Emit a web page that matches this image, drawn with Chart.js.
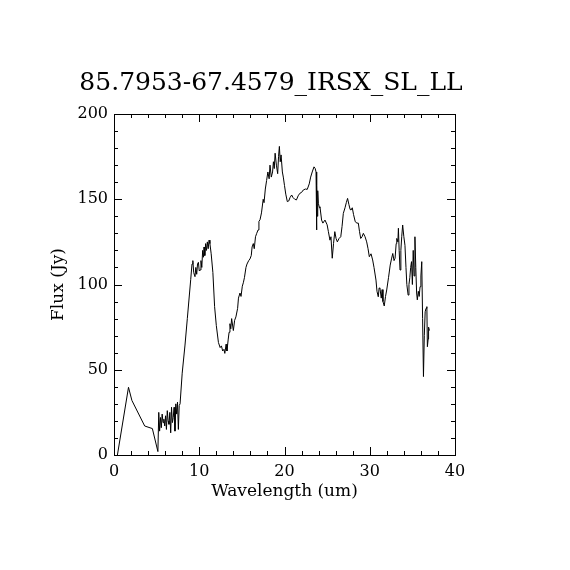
<!DOCTYPE html>
<html>
<head>
<meta charset="utf-8">
<title>85.7953-67.4579_IRSX_SL_LL</title>
<script src="https://cdn.jsdelivr.net/npm/chart.js@4.4.1/dist/chart.umd.min.js"></script>
<style>
  html, body { margin: 0; padding: 0; background: #fff; }
  #wrap { width: 570px; height: 570px; }
</style>
</head>
<body>
<div id="wrap"><canvas id="specChart"></canvas></div>
<script>
// Spectrum samples
const wavelength = [
  0.4, 1.7, 2.1, 3.6, 4.5, 5.15,
  5.25, 5.35, 5.45, 5.55, 5.65, 5.75, 5.85, 5.95, 6.05, 6.15, 6.25, 6.35, 6.45, 6.55,
  6.65, 6.75, 6.85, 6.95, 7.05, 7.15, 7.25, 7.35, 7.45, 7.55, 7.65, 7.75,
  8.0, 8.33, 8.6, 9.0, 9.15, 9.25, 9.35, 9.5, 9.6, 9.7, 9.8, 9.9, 10.0, 10.1, 10.2, 10.3,
  10.4, 10.5, 10.56, 10.65, 10.75, 10.85, 10.95, 11.05, 11.15, 11.25, 11.4, 11.6, 11.8, 12.0,
  12.25, 12.45, 12.6, 12.75, 12.9, 13.0, 13.15, 13.25, 13.4, 13.5, 13.6, 13.7, 13.8, 14.0,
  14.15, 14.3, 14.5, 14.6, 14.78, 14.9, 15.05, 15.17, 15.3, 15.48, 15.6, 15.8, 15.95, 16.1,
  16.2, 16.34, 16.45, 16.6, 16.74, 16.9, 17.0, 17.13, 17.3, 17.5, 17.6, 17.75, 17.9, 18.05,
  18.2, 18.3, 18.45, 18.6, 18.7, 18.8, 18.9, 19.05, 19.2, 19.3, 19.4, 19.5, 19.6, 19.75,
  19.86, 20.0, 20.15, 20.33, 20.5, 20.65, 20.84, 21.0, 21.2, 21.4, 21.6, 21.8, 22.0, 22.2,
  22.45, 22.67, 22.9, 23.07, 23.25, 23.46, 23.6, 23.7, 23.75, 23.8, 23.85, 23.9, 23.97, 24.1,
  24.16, 24.35, 24.5, 24.75, 25.0, 25.15, 25.33, 25.45, 25.6, 25.75, 25.9, 26.05, 26.2, 26.4,
  26.6, 26.75, 26.9, 27.1, 27.25, 27.4, 27.55, 27.7, 27.8, 27.95, 28.1, 28.3, 28.5, 28.66,
  28.8, 28.94, 29.1, 29.25, 29.45, 29.64, 29.8, 29.95, 30.15, 30.34, 30.5, 30.73, 30.85, 31.0,
  31.1, 31.2, 31.35, 31.45, 31.55, 31.7, 31.85, 31.99, 32.2, 32.4, 32.55, 32.7, 32.85, 32.97,
  33.1, 33.17, 33.3, 33.36, 33.45, 33.55, 33.65, 33.75, 33.86, 34.0, 34.13, 34.25, 34.35, 34.5,
  34.6, 34.7, 34.8, 34.9, 35.0, 35.1, 35.2, 35.3, 35.4, 35.5, 35.58, 35.7, 35.8, 35.9,
  36.0, 36.1, 36.2, 36.3, 36.4, 36.5, 36.6, 36.7, 36.76, 36.85, 36.9, 37.0
];
const flux = [
  0, 39.7, 32, 17, 15.5, 2,
  25, 14, 22, 16, 24, 19, 21, 17, 23, 15, 26, 20, 18, 25,
  13, 28, 19, 22, 28, 14, 30, 24, 31, 15, 29, 30,
  48, 64.5, 80, 103, 112, 114, 107, 104.6, 110, 106, 112, 113, 108, 108.5, 114, 110,
  120, 116, 122, 117, 124, 120, 125, 121, 126, 124, 118, 107, 87, 76,
  66, 63, 64, 61, 62, 59.6, 65, 61, 68, 72, 77, 74, 80, 73,
  79, 81, 86, 92, 95, 93, 99, 101, 104, 110, 112, 114, 115, 117,
  122, 124, 121, 128, 130, 132, 137, 138, 142, 150, 148, 156, 161, 166,
  162, 170, 163, 166, 172, 168, 177, 170, 165, 175, 181, 172, 176, 166,
  163, 158, 153, 148.6, 149, 151, 152.5, 151, 150, 149.6, 152, 153.5, 154, 155.4,
  156, 155.8, 159, 163, 166, 169, 168, 166, 132, 158, 140, 155, 147.6, 145,
  145.6, 137.8, 136, 137.8, 135, 131, 126, 128, 115.4, 124, 131, 127, 125, 127,
  128, 134, 141.7, 145, 148, 150.5, 147, 144, 143.7, 145, 141, 136.8, 136, 136,
  131, 127, 128, 130, 128, 125, 121, 116.3, 118, 114.4, 110, 102.6, 96, 92.8,
  98, 97.7, 92, 97, 90, 87.4, 93, 96.8, 104, 111.4, 115, 118.2, 114, 115.4,
  124, 127, 125, 133, 120, 108.5, 120, 128, 134.9, 128, 123, 110, 100, 93.8,
  100, 104, 110, 113.4, 100, 120, 105, 128, 110, 95, 91, 96, 93, 98.7,
  105, 113.4, 80, 46, 70, 84, 86, 87, 63.5, 68, 75, 73
];

// Axis ranges and tick marks
const xTicks = [0, 10, 20, 30, 40];
const yTicks = [0, 50, 100, 150, 200];
const xMinorStep = 2;
const yMinorStep = 10;

const serif = 'DejaVu Serif';

// IDL-style box with inward ticks on all four sides
const boxTicks = {
  id: 'boxTicks',
  afterDraw(chart) {
    const { ctx, chartArea: a, scales: { x, y } } = chart;
    ctx.save();
    ctx.strokeStyle = '#000';
    ctx.lineWidth = 1;
    ctx.strokeRect(Math.round(a.left) + 0.5, Math.round(a.top) + 0.5,
      Math.round(a.right - a.left), Math.round(a.bottom - a.top));
    ctx.beginPath();
    const xMax = xTicks[xTicks.length - 1];
    for (let v = xTicks[0]; v <= xMax; v += xMinorStep) {
      const px = Math.round(x.getPixelForValue(v)) + 0.5;
      const len = xTicks.includes(v) ? 8 : 4;
      ctx.moveTo(px, a.bottom); ctx.lineTo(px, a.bottom - len);
      ctx.moveTo(px, a.top); ctx.lineTo(px, a.top + len);
    }
    const yMax = yTicks[yTicks.length - 1];
    for (let v = yTicks[0]; v <= yMax; v += yMinorStep) {
      const py = Math.round(y.getPixelForValue(v)) + 0.5;
      const len = yTicks.includes(v) ? 8 : 4;
      ctx.moveTo(a.left, py); ctx.lineTo(a.left + len, py);
      ctx.moveTo(a.right, py); ctx.lineTo(a.right - len, py);
    }
    ctx.stroke();
    ctx.restore();
  }
};

const points = wavelength.map((w, i) => ({ x: w, y: flux[i] }));

// title box spans 0..542 so its centre sits near x=271 like the reference;
// an empty right-hand scale fills the gap between the plot and that edge
const padRight = 28;

new Chart(document.getElementById('specChart'), {
  type: 'line',
  data: {
    datasets: [{
      data: points,
      borderColor: '#000',
      borderWidth: 1,
      pointRadius: 0,
      tension: 0,
      fill: false
    }]
  },
  options: {
    responsive: true, maintainAspectRatio: false, animation: false,
    layout: { padding: { left: 0, right: padRight, top: 0, bottom: 0 } },
    plugins: {
      legend: { display: false },
      tooltip: { enabled: false },
      title: {
        display: true,
        text: '85.7953-67.4579_IRSX_SL_LL',
        color: '#000',
        font: { family: serif, size: 25, weight: 'normal' },
        padding: { top: 68, bottom: 16 }
      }
    },
    scales: {
      x: {
        type: 'linear', min: xTicks[0], max: xTicks[xTicks.length - 1],
        afterBuildTicks: s => { s.ticks = xTicks.map(v => ({ value: v })); },
        afterFit: s => { s.height = 115; },
        grid: { display: false, drawTicks: false },
        border: { display: false },
        ticks: { color: '#000', padding: 7, maxRotation: 0, font: { family: serif, size: 16 } },
        title: {
          display: true, text: 'Wavelength (um)', color: '#000',
          font: { family: serif, size: 17 }, padding: { top: 0, bottom: 68 }
        }
      },
      y: {
        type: 'linear', min: yTicks[0], max: yTicks[yTicks.length - 1],
        afterBuildTicks: s => { s.ticks = yTicks.map(v => ({ value: v })); },
        afterFit: s => { s.width = 114; },
        grid: { display: false, drawTicks: false },
        border: { display: false },
        ticks: { color: '#000', padding: 6, font: { family: serif, size: 16 } },
        title: {
          display: true, text: 'Flux (Jy)', color: '#000',
          font: { family: serif, size: 17 }, padding: { top: 48, bottom: 0 }
        }
      },
      spacer: {
        type: 'linear', position: 'right', min: 0, max: 1,
        afterFit: s => { s.width = 570 - padRight - 455; },
        grid: { display: false, drawTicks: false },
        border: { display: false },
        ticks: { display: false }
      }
    }
  },
  plugins: [boxTicks]
});
</script>
</body>
</html>
